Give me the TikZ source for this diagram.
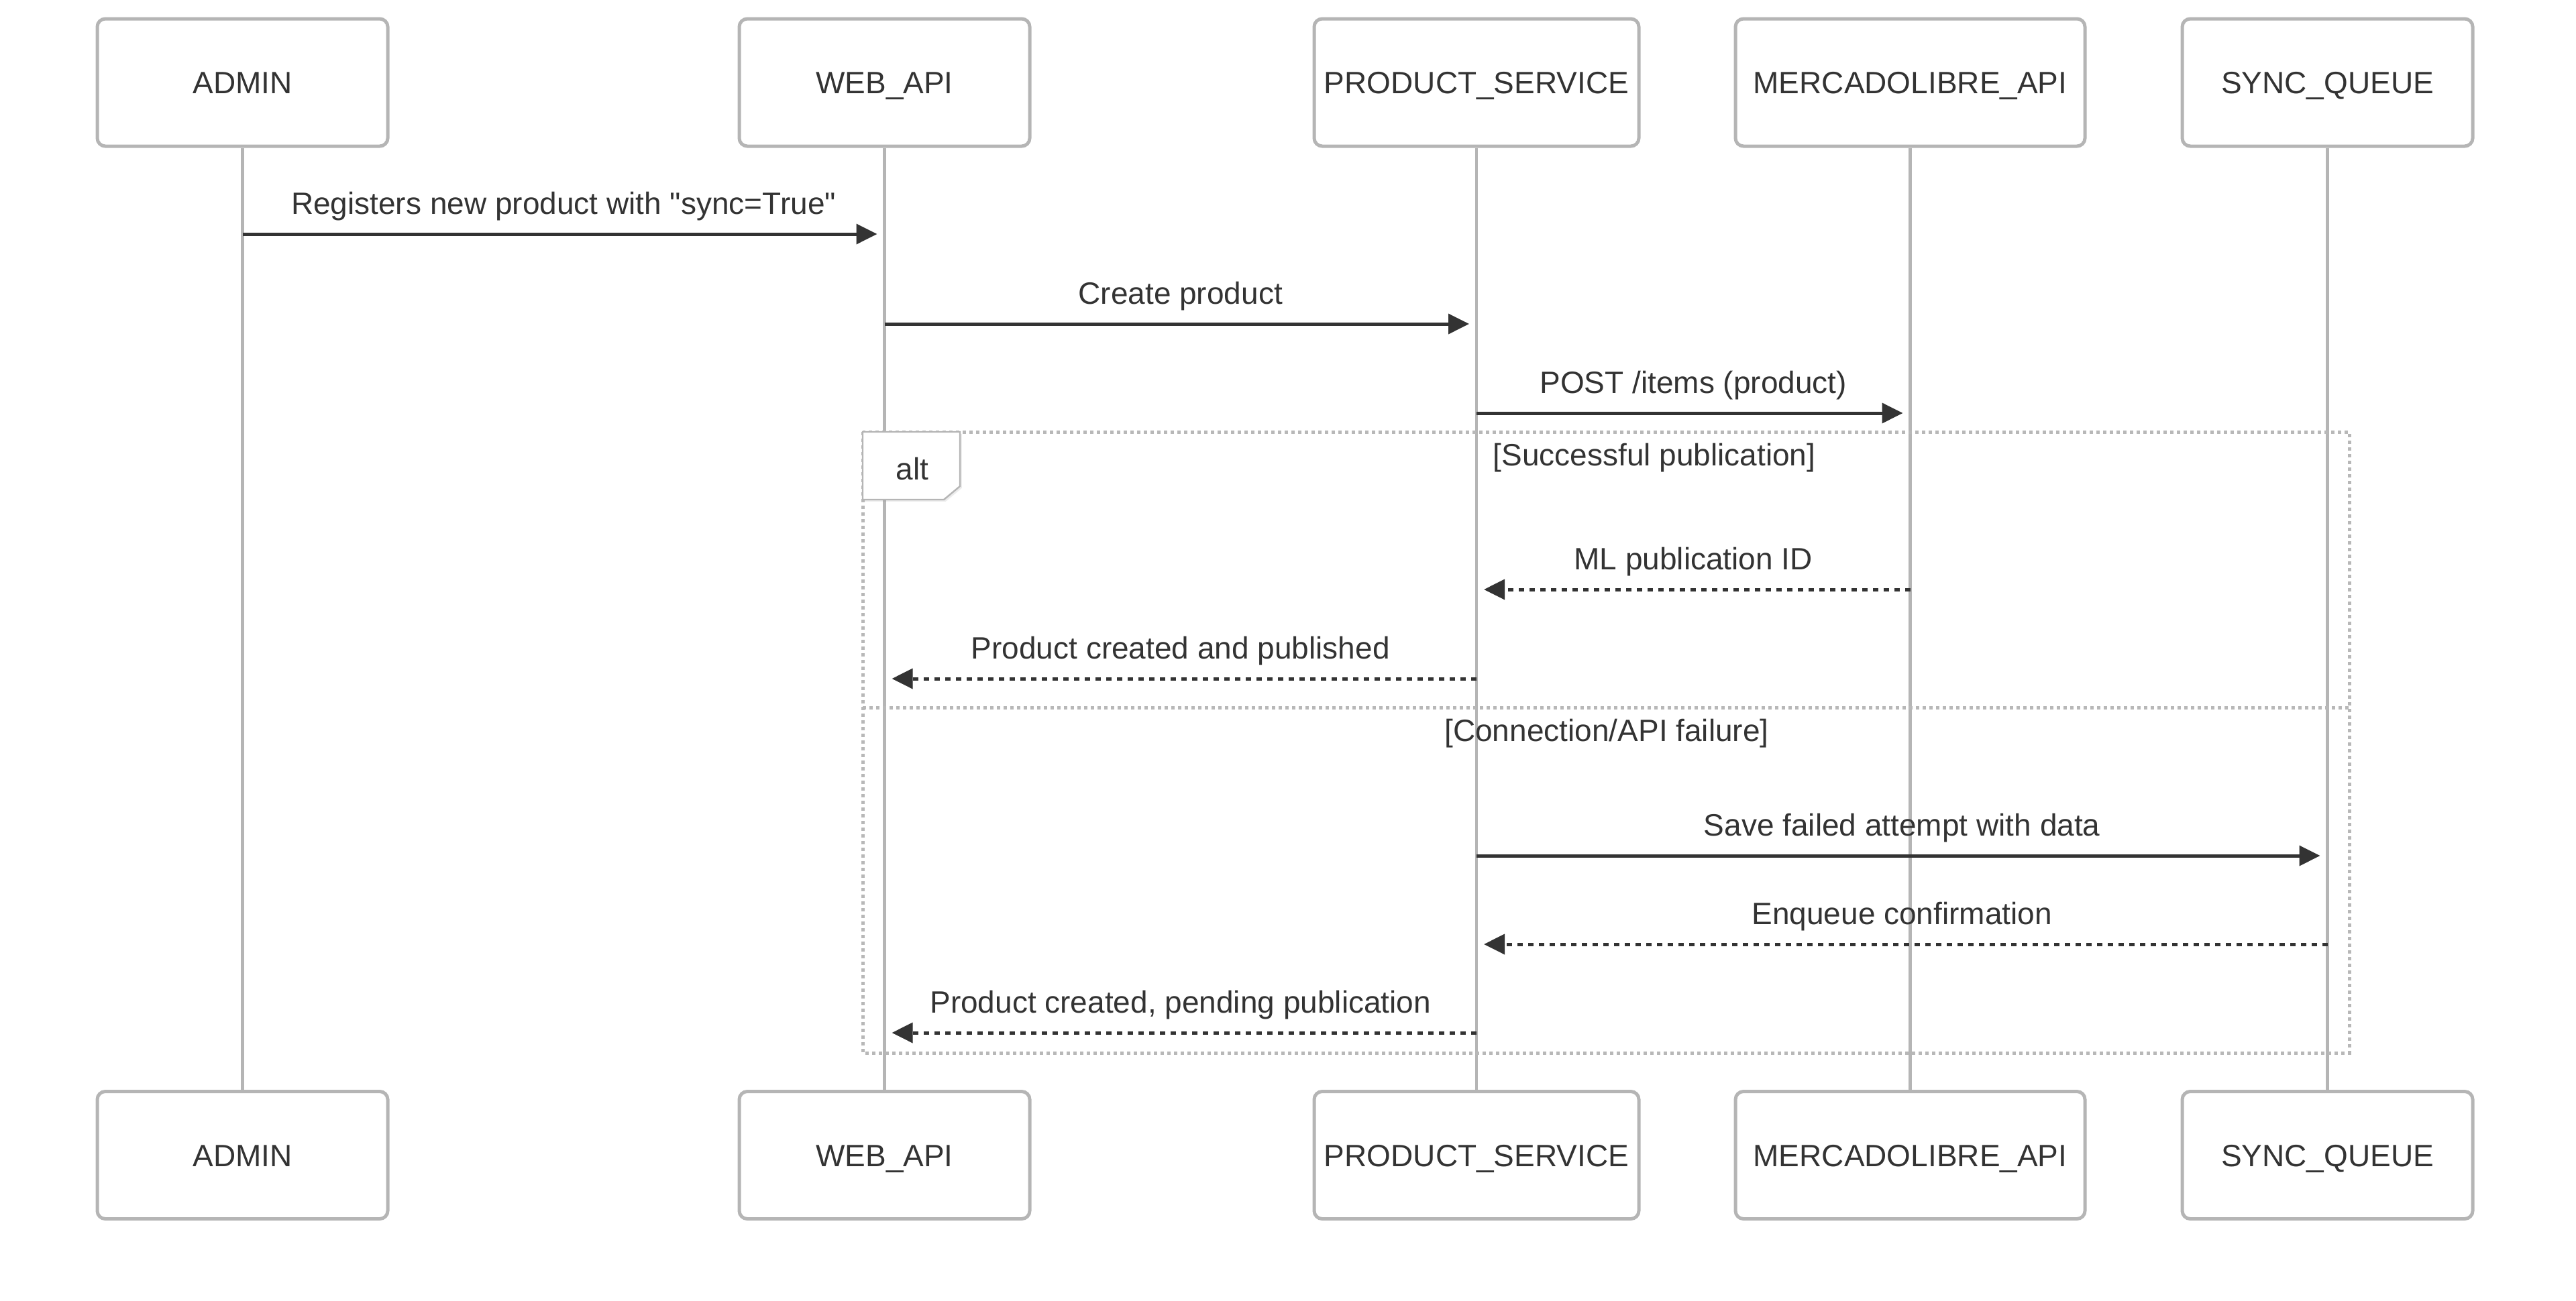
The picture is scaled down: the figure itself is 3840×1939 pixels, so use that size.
\documentclass[tikz,border=0pt]{standalone}
\usepackage{fontspec}
\setmainfont{Liberation Sans}[Ligatures=TeXOff]
\usetikzlibrary{
	arrows.meta,
	shadows
}
\definecolor{lineGray}{HTML}{B5B5B5}
\definecolor{frameGray}{HTML}{B8B8B8}
\definecolor{ink}{HTML}{333333}
\tikzset{
	x=0.25pt, y=-0.25pt,
	actor/.style={
		draw=lineGray, line width=1.25pt, fill=white, rounded corners=3pt,
		minimum width=108.25pt, minimum height=47.5pt,
		text height=8.25pt, text depth=0pt, inner sep=0pt, text=ink
	},
	lifeline/.style={draw=lineGray, line width=1.1pt},
	msg/.style={
		draw=ink, line width=1.25pt, shorten >=2.75pt,
		-{Triangle[length=7.75pt,width=7.4pt]}
	},
	reply/.style={msg, dash pattern=on 2pt off 2pt},
	lbl/.style={anchor=base, yshift=7.5pt, inner sep=0pt, text=ink},
	frame/.style={draw=frameGray, line width=1.25pt, dash pattern=on 1.25pt off 1.25pt},
	alttag/.style={draw=lineGray, line width=0.6pt, fill=white,
		drop shadow={opacity=0.15, shadow xshift=0.7pt, shadow yshift=-0.7pt}}
}

\begin{document}
\begin{tikzpicture}[font=\fontsize{11.5pt}{13.8pt}\selectfont]
		\useasboundingbox (0,0) rectangle (3840,1939);

		% participants, top and bottom
		\foreach \p/\x/\w/\t in {admin/361.5/433/ADMIN, web/1318.5/433/WEB\_API,
			prod/2201/484/PRODUCT\_SERVICE, ml/2847.5/521/MERCADOLIBRE\_API,
			sync/3469.5/433/SYNC\_QUEUE} {
			\node [actor, minimum width=\w*0.25pt] (\p T) at (\x,123) {\t};
			\node [actor, minimum width=\w*0.25pt] (\p B) at (\x,1722.5) {\t};
			\draw [lifeline] (\p T) -- (\p B);
		}

		% message rows
		\foreach \i/\y in {1/349, 2/483, 3/616, 4/879, 5/1012, 6/1276, 7/1408, 8/1540}
			\coordinate (r\i) at (0,\y);

		% alt frame
		\coordinate (altNW) at (1286,644);
		\coordinate (altSE) at (3502,1570);
		\coordinate (altDiv) at (0,1055);
		\draw [frame] (altNW) rectangle (altSE);
		\draw [frame] (altNW |- altDiv) -- (altSE |- altDiv);
		\draw [alttag] (altNW) -- ++(145,0) -- ++(0,81) -- ++(-24,20) -- ++(-121,0) -- cycle;
		\node [anchor=base, text=ink] (altLbl) at (1360,715) {alt};
		\node [anchor=base, text=ink] (sec1) at (2466,694) {[Successful publication]};
		\node [anchor=base, text=ink] (sec2) at (2395,1105) {[Connection/API failure]};

		% messages
		\draw [msg]   (adminT |- r1) -- node [lbl] {Registers new product with "sync=True"} (webT |- r1);
		\draw [msg]   (webT |- r2)   -- node [lbl] {Create product} (prodT |- r2);
		\draw [msg]   (prodT |- r3)  -- node [lbl] {POST /items (product)} (mlT |- r3);
		\draw [reply] (mlT |- r4)    -- node [lbl] {ML publication ID} (prodT |- r4);
		\draw [reply] (prodT |- r5)  -- node [lbl] {Product created and published} (webT |- r5);
		\draw [msg]   (prodT |- r6)  -- node [lbl] {Save failed attempt with data} (syncT |- r6);
		\draw [reply] (syncT |- r7)  -- node [lbl] {Enqueue confirmation} (prodT |- r7);
		\draw [reply] (prodT |- r8)  -- node [lbl] {Product created, pending publication} (webT |- r8);
	\end{tikzpicture}
\end{document}
